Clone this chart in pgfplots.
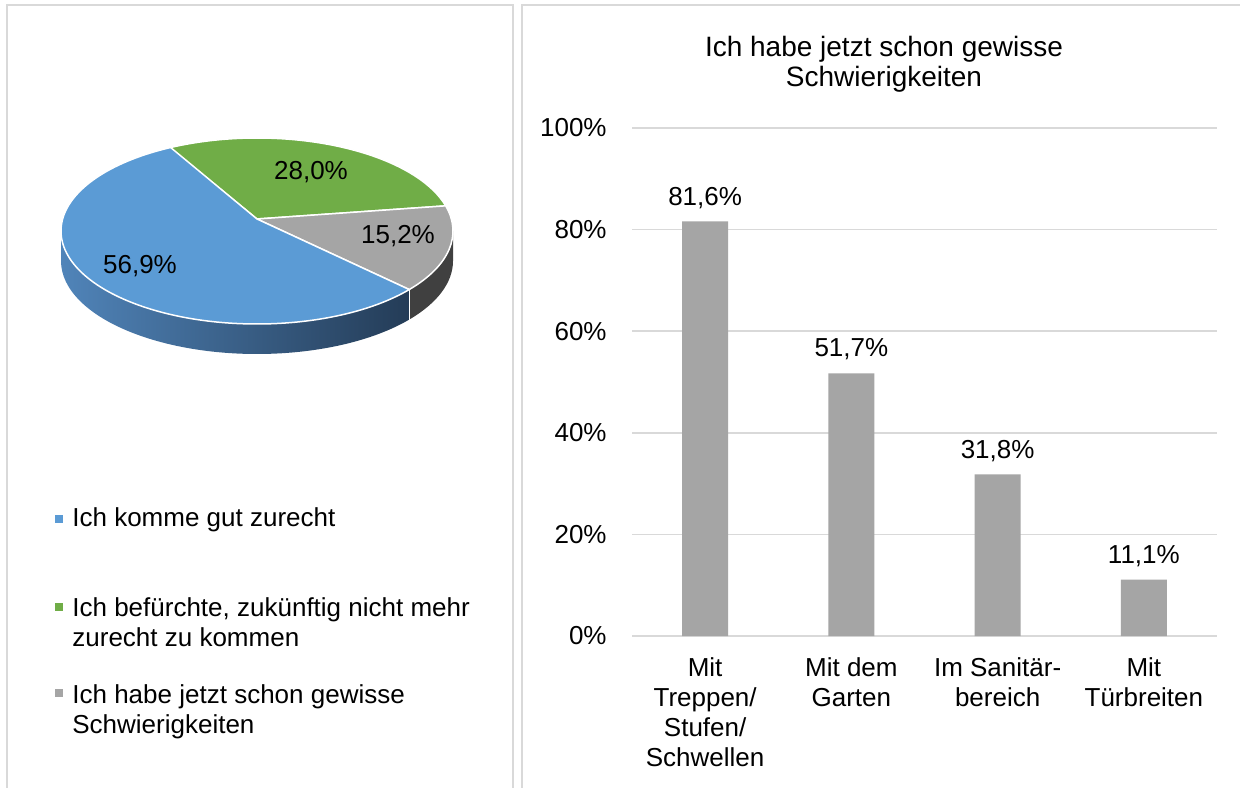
\documentclass[border=0pt]{standalone}
\usepackage{fontspec}
\setmainfont{Liberation Sans}
\usepackage{pgfplots}
\usepackage{pgfplotstable}
\usetikzlibrary{calc}
\pgfplotsset{compat=1.18}
\definecolor{pblue}{HTML}{5B9BD5}
\definecolor{pgreen}{HTML}{70AD47}
\definecolor{pgray}{HTML}{A5A5A5}
\definecolor{sidegray}{HTML}{404040}
\definecolor{sideblueL}{RGB}{80,132,185}
\definecolor{sideblueR}{RGB}{36,60,87}
\definecolor{gridgray}{HTML}{D9D9D9}
\definecolor{framegray}{HTML}{D9D9D9}

\pgfplotstableread{
x y
0 81.6
1 51.7
2 31.8
3 11.1
}\bardata

\begin{document}
\begin{tikzpicture}[x=0.5pt,y=0.5pt,font=\fontsize{13}{15}\selectfont]
\useasboundingbox (0,0) rectangle (1240,787);
\clip (0,0) rectangle (1240,787);
\fill[white] (0,0) rectangle (1240,787);
% panel frames
\draw[framegray, line width=0.75pt] (7,782) rectangle (513,-20);
\draw[framegray, line width=0.75pt] (522,782) rectangle (1260,-20);

% ---------- 3D pie ----------
\def\cx{257}\def\cy{556}\def\vy{568}
% sides (visible lower half)
\shade[left color=sideblueL, right color=sideblueR]
  (\cx,\cy) ++(180:196 and 93) arc[start angle=180, end angle=321, x radius=98pt, y radius=46.5pt]
  -- ++(0,-15pt) arc[start angle=321, end angle=180, x radius=98pt, y radius=46.5pt] -- cycle;
\fill[sidegray]
  (\cx,\cy) ++(321:196 and 93) arc[start angle=321, end angle=360, x radius=98pt, y radius=46.5pt]
  -- ++(0,-15pt) arc[start angle=360, end angle=321, x radius=98pt, y radius=46.5pt] -- cycle;
\draw[white, line width=0.75pt] (\cx,\cy) ++(321:196 and 93) -- ++(0,-15pt);
% top slices: values in percent
\xdef\curang{116.5}
\foreach \v/\col in {28.0/pgreen,15.2/pgray,56.9/pblue}{
  \pgfmathsetmacro\endang{\curang-3.6*\v}
  \fill[\col, draw=white, line width=0.75pt, line join=round]
    (\cx,\vy) -- ($(\cx,\cy)+(\curang:196 and 93)$)
    arc[start angle=\curang, end angle=\endang, x radius=98pt, y radius=46.5pt] -- cycle;
  \xdef\curang{\endang}
}
\node at (140,521) {56,9\%};
\node at (311,615) {28,0\%};
\node at (398,551) {15,2\%};

% legend
\fill[pblue] (55,264) rectangle (63,272);
\fill[pgreen] (55,176) rectangle (63,184);
\fill[pgray] (55,90) rectangle (63,98);
\node[anchor=base west, inner sep=0pt] at (72,260) {Ich komme gut zurecht};
\node[anchor=base west, inner sep=0pt] at (72,171) {Ich befürchte, zukünftig nicht mehr};
\node[anchor=base west, inner sep=0pt] at (72,141) {zurecht zu kommen};
\node[anchor=base west, inner sep=0pt] at (72,84) {Ich habe jetzt schon gewisse};
\node[anchor=base west, inner sep=0pt] at (72,54) {Schwierigkeiten};

% ---------- bar chart ----------
\node[anchor=base, inner sep=0pt, font=\fontsize{14}{15}\selectfont] at (884,730) {Ich habe jetzt schon gewisse};
\node[anchor=base, inner sep=0pt, font=\fontsize{14}{15}\selectfont] at (884,700) {Schwierigkeiten};

\begin{axis}[
  at={(316pt,75.5pt)}, anchor=south west,
  scale only axis, width=292.5pt, height=254pt,
  xmin=-0.5, xmax=3.5, ymin=0, ymax=100,
  axis line style={draw=none},
  ymajorgrids, grid style={draw=gridgray, line width=0.75pt},
  major tick length=0pt,
  ytick={0,20,40,60,80,100},
  yticklabels={0\%,20\%,40\%,60\%,80\%,100\%},
  yticklabel style={anchor=east, inner sep=0pt, xshift=-12.5pt, font=\fontsize{13}{15}\selectfont},
  xtick={0,1,2,3},
  xticklabels={{Mit\\Treppen/\\Stufen/\\Schwellen},{Mit dem\\Garten},{Im Sanitär-\\bereich},{Mit\\Türbreiten}},
  xticklabel style={align=center, anchor=north, inner sep=0pt, yshift=-10.5pt, font=\fontsize{13}{15}\selectfont},
  ybar, bar width=23pt,
  nodes near coords={\pgfmathprintnumber[fixed,fixed zerofill,precision=1,use comma,assume math mode=true]{\pgfplotspointmeta}\%},
  every node near coord/.append style={inner sep=0pt, text depth=0pt, yshift=8pt, font=\fontsize{13}{15}\selectfont},
]
\addplot[fill=pgray, draw=none] table[x=x,y=y] {\bardata};
\end{axis}
\end{tikzpicture}
\end{document}
